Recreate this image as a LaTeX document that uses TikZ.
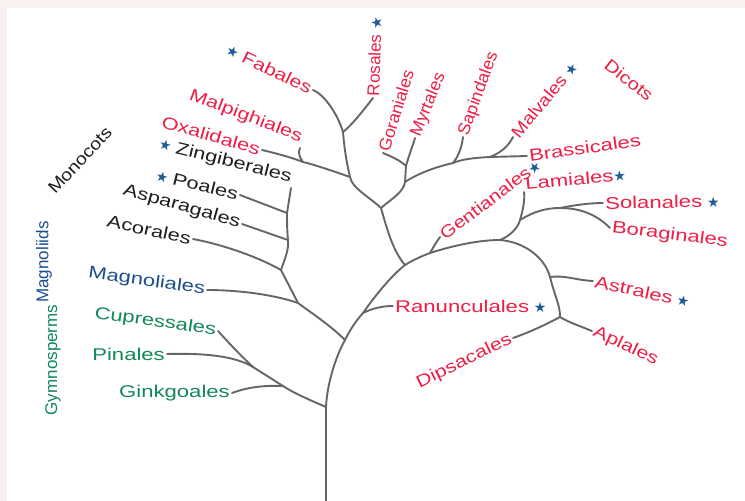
\documentclass[tikz,border=0pt]{standalone}
\usepackage{fontspec}
\setmainfont{Liberation Sans}
\newfontfamily\symf{DejaVu Sans}
\usepackage{graphicx}
\usepackage{xcolor}
\usepackage{tikz}
\definecolor{dicotred}{RGB}{238,30,70}
\definecolor{monoblack}{RGB}{30,30,30}
\definecolor{magblue}{RGB}{28,78,140}
\definecolor{gymgreen}{RGB}{18,135,88}
\definecolor{starblue}{RGB}{30,92,150}
\definecolor{treegray}{RGB}{102,102,102}
\definecolor{pagepink}{RGB}{249,241,239}
\def\sx{1.3}
\newcommand{\wt}[1]{\scalebox{\sx}[1]{#1}}
\newcommand{\st}{{\symf\fontsize{14}{14}\selectfont\textcolor{starblue}{★}}}

\begin{document}
\begin{tikzpicture}[x=1pt,y=-1pt,
    br/.style={draw=treegray,line width=1.9pt,line cap=round},
    lbl/.style={inner sep=2pt,font=\fontsize{17}{20}\selectfont},
    tilt/.style={rotate=#1,execute at begin node={\pgfmathsetmacro\sx{sqrt((1.3*cos(#1))*(1.3*cos(#1))+sin(#1)*sin(#1))}}},
    red/.style={lbl,text=dicotred},
    mono/.style={lbl,text=monoblack},
    blue/.style={lbl,text=magblue},
    green/.style={lbl,text=gymgreen}]
    \useasboundingbox (0,0) rectangle (745,501);
    \fill[pagepink] (0,0) rectangle (745,501);
    \fill[white] (7,8) rectangle (745,501);

    % group names
    \node[mono,tilt=47] (monocots) at (80,160) {\wt{Monocots}};
    \node[blue,tilt=90] (magnoliids) at (44,262) {\wt{Magnoliids}};
    \node[green,tilt=90] (gymno) at (53,360) {\wt{Gymnosperms}};
    \node[red,tilt=-38] (dicots) at (629,80) {\wt{Dicots}};

    % left hand labels
    \node[red,tilt=-26,anchor=east] (fab) at (313,90) {\st\ \wt{Fabales}};
    \node[red,tilt=-21,anchor=south east] (mal) at (300,148) {\wt{Malpighiales}};
    \node[red,tilt=-16,anchor=east] (oxa) at (262,150) {\wt{Oxalidales}};
    \node[mono,tilt=-14,anchor=south east] (zin) at (291,188) {\st\ \wt{Zingiberales}};
    \node[mono,tilt=-14,anchor=east] (poa) at (240,195) {\st\ \wt{Poales}};
    \node[mono,tilt=-16,anchor=east] (asp) at (242,224) {\wt{Asparagales}};
    \node[mono,tilt=-12,anchor=east] (aco) at (193,239) {\wt{Acorales}};
    \node[blue,tilt=-8,anchor=east] (mag) at (207,290) {\wt{Magnoliales}};
    \node[green,tilt=-8,anchor=east] (cup) at (218,331) {\wt{Cupressales}};
    \node[green,tilt=0,anchor=east] (pin) at (167,354) {\wt{Pinales}};
    \node[green,tilt=0,anchor=east] (gin) at (232,393) {\wt{Ginkgoales}};
    \node[red,tilt=26,anchor=east] (dip) at (513,338) {\wt{Dipsacales}};

    % right hand labels
    \node[red,tilt=88,anchor=west] (ros) at (373,98) {\wt{Rosales}\ \st};
    \node[red,tilt=73,anchor=west] (gor) at (383,153) {\wt{Goraniales}};
    \node[red,tilt=68,anchor=west] (myr) at (415,138) {\wt{Myrtales}};
    \node[red,tilt=70,anchor=west] (sap) at (463,137) {\wt{Sapindales}};
    \node[red,tilt=50,anchor=west] (malv) at (513,137) {\wt{Malvales}\ \st};
    \node[red,tilt=8,anchor=west] (bra) at (527,156) {\wt{Brassicales}};
    \node[red,tilt=37,anchor=west] (gen) at (440,237) {\wt{Gentianales}\st};
    \node[red,tilt=5,anchor=south west] (lam) at (524,192) {\wt{Lamiales}\st};
    \node[red,tilt=1,anchor=west] (sol) at (603,203) {\wt{Solanales}\ \st};
    \node[red,tilt=-7,anchor=west] (bor) at (610,228) {\wt{Boraginales}};
    \node[red,tilt=-12,anchor=west] (ast) at (593,281) {\wt{Astrales}\ \st};
    \node[red,tilt=-25,anchor=west] (apl) at (592,331) {\wt{Aplales}};
    \node[red,tilt=0,anchor=west] (ran) at (393,306) {\wt{Ranunculales}\ \st};

    % branch points
    \coordinate (root) at (326,503);
    \coordinate (jg) at (326,407);
    \coordinate (jgin) at (283,386);
    \coordinate (jpin) at (253,367);
    \coordinate (jmm) at (345,340);
    \coordinate (jmag) at (298,303);
    \coordinate (jaco) at (281,270);
    \coordinate (jasp) at (288,240);
    \coordinate (jpoa) at (287,213);
    \coordinate (jran) at (363,313);
    \coordinate (jra) at (405,265);
    \coordinate (jrr) at (381,208);
    \coordinate (jox) at (350,177);
    \coordinate (jmal) at (303,162);
    \coordinate (jros) at (343,132);
    \coordinate (jgs) at (405,182);
    \coordinate (jgm) at (406,166);
    \coordinate (jsap) at (453,163);
    \coordinate (jmalv) at (490,157);
    \coordinate (jgen) at (430,253);
    \coordinate (jast) at (500,240);
    \coordinate (jsol) at (520,220);
    \coordinate (jbor) at (560,208);
    \coordinate (jastr) at (550,277);
    \coordinate (japl) at (560,317);

    % trunk
    \draw[br] (root) -- (jg) .. controls (327,385) and (335,358) .. (jmm)
        .. controls (351,328) and (356,321) .. (jran)
        .. controls (375,296) and (390,277) .. (jra);
    % gymnosperms
    \draw[br] (jg) .. controls (305,398) and (292,392) .. (jgin) -- (jpin)
        .. controls (240,355) and (228,342) .. (cup.east);
    \draw[br] (jgin) .. controls (262,385) and (245,388) .. (gin.east);
    \draw[br] (jpin) .. controls (235,356) and (205,353) .. (pin.east);
    % magnoliids, monocots
    \draw[br] (jmm) .. controls (330,325) and (310,312) .. (jmag) -- (jaco)
        .. controls (285,258) and (289,250) .. (jasp)
        .. controls (287,230) and (287,222) .. (jpoa) -- (zin.south east);
    \draw[br] (jmag) .. controls (275,295) and (240,290) .. (mag.east);
    \draw[br] (jaco) .. controls (260,258) and (225,245) .. (aco.east);
    \draw[br] (jasp) -- (asp.east);
    \draw[br] (jpoa) -- (poa.east);
    \draw[br] (jran) .. controls (373,308) and (383,306) .. (ran.west);
    % rosids
    \draw[br] (jra) .. controls (392,250) and (386,225) .. (jrr);
    \draw[br] (jrr) .. controls (368,196) and (352,188) .. (jox)
        .. controls (346,160) and (344,145) .. (jros)
        .. controls (338,115) and (325,95) .. (fab.east);
    \draw[br] (jros) .. controls (352,125) and (362,112) .. (ros.west);
    \draw[br] (jox) .. controls (330,170) and (312,164) .. (jmal)
        .. controls (290,157) and (275,153) .. (oxa.east);
    \draw[br] (jmal) .. controls (299,157) and (298,152) .. (mal.south east);
    \draw[br] (jrr) .. controls (390,200) and (404,192) .. (jgs) -- (jgm)
        .. controls (400,160) and (390,156) .. (gor.west);
    \draw[br] (jgm) .. controls (409,155) and (413,145) .. (myr.west);
    \draw[br] (jgs) .. controls (420,172) and (440,166) .. (jsap)
        .. controls (460,160) and (470,158) .. (jmalv) -- (bra.west);
    \draw[br] (jsap) .. controls (458,157) and (462,147) .. (sap.west);
    \draw[br] (jmalv) .. controls (500,153) and (508,147) .. (malv.west);
    % asterids
    \draw[br] (jra) .. controls (413,260) and (422,256) .. (jgen)
        .. controls (455,245) and (480,240) .. (jast);
    \draw[br] (jgen) .. controls (434,246) and (437,241) .. (gen.west);
    \draw[br] (jast) .. controls (510,236) and (518,228) .. (jsol)
        .. controls (523,210) and (525,200) .. (lam.south west);
    \draw[br] (jsol) .. controls (533,212) and (545,208) .. (jbor)
        .. controls (575,205) and (590,203) .. (sol.west);
    \draw[br] (jbor) .. controls (585,208) and (600,218) .. (bor.west);
    \draw[br] (jast) .. controls (525,242) and (545,258) .. (jastr)
        .. controls (556,300) and (560,305) .. (japl);
    \draw[br] (jastr) .. controls (565,275) and (575,280) .. (ast.west);
    \draw[br] (japl) .. controls (570,323) and (580,326) .. (apl.west);
    \draw[br] (japl) .. controls (545,325) and (530,332) .. (dip.east);
\end{tikzpicture}
\end{document}
